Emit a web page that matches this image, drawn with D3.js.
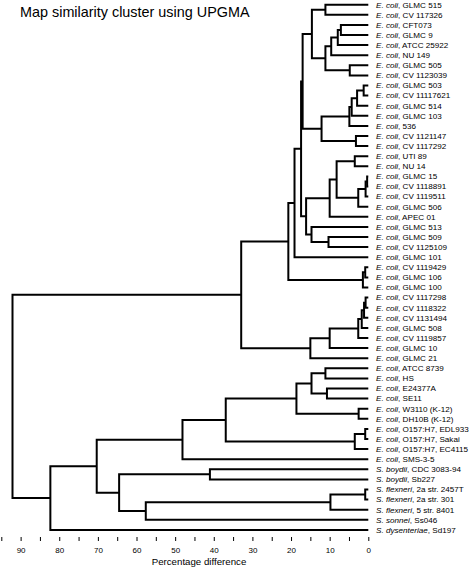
<!DOCTYPE html>
<html>
<head>
<meta charset="utf-8">
<script src="https://cdn.jsdelivr.net/npm/d3@7"></script>
<style>
  html, body { margin: 0; padding: 0; background: #fff; }
  svg { display: block; font-family: "Liberation Sans", Arial, Helvetica, sans-serif; }
</style>
</head>
<body>
<svg id="chart" width="472" height="568"></svg>
<script>
// ---- DATA ----
const title = "Map similarity cluster using UPGMA";
const axisLabel = "Percentage difference";

// leaf order (top to bottom)
const species = [
  "E. coli","E. coli","E. coli","E. coli","E. coli","E. coli","E. coli","E. coli",
  "E. coli","E. coli","E. coli","E. coli","E. coli","E. coli","E. coli",
  "E. coli","E. coli","E. coli","E. coli","E. coli","E. coli","E. coli",
  "E. coli","E. coli","E. coli","E. coli","E. coli","E. coli","E. coli",
  "E. coli","E. coli","E. coli","E. coli","E. coli","E. coli","E. coli",
  "E. coli","E. coli","E. coli","E. coli","E. coli","E. coli","E. coli",
  "E. coli","E. coli","E. coli",
  "S. boydii","S. boydii","S. flexneri","S. flexneri","S. flexneri","S. sonnei","S. dysenteriae"
];
const strains = [
  "GLMC 515","CV 117326","CFT073","GLMC 9","ATCC 25922","NU 149","GLMC 505","CV 1123039",
  "GLMC 503","CV 11117621","GLMC 514","GLMC 103","536","CV 1121147","CV 1117292",
  "UTI 89","NU 14","GLMC 15","CV 1118891","CV 1119511","GLMC 506","APEC 01",
  "GLMC 513","GLMC 509","CV 1125109","GLMC 101","CV 1119429","GLMC 106","GLMC 100",
  "CV 1117298","CV 1118322","CV 1131494","GLMC 508","CV 1119857","GLMC 10","GLMC 21",
  "ATCC 8739","HS","E24377A","SE11","W3110 (K-12)","DH10B (K-12)","O157:H7, EDL933",
  "O157:H7, Sakai","O157:H7, EC4115","SMS-3-5",
  "CDC 3083-94","Sb227","2a str. 2457T","2a str. 301","5 str. 8401","Ss046","Sd197"
];

// UPGMA merges: [childA, childB, height(% difference)]
// leaves are 0..52, merge i creates node 53+i
const mergeA = [0,2,54,55,6,56,53,8,60,61,62,13,63,59,15,17,68,69,67,71,23,22,72,66,76,26,78,77,29,81,82,83,84,85,80,36,38,88,40,90,42,93,92,95,46,48,98,99,97,96,102,87];
const mergeB = [1,3,4,5,7,57,58,9,10,11,12,14,64,65,16,18,19,20,70,21,24,73,74,75,25,27,28,79,30,31,32,33,34,35,86,37,39,89,41,91,43,44,94,45,47,49,50,51,100,101,52,103];
const mergeH = [11.1,7.1,7.9,9.6,4.8,11.1,14.6,1.2,2.9,4.3,4.9,3.2,12.1,17.0,3.5,0.3,0.7,2.6,8.2,10.0,10.3,14.7,16.1,17.4,19.1,0.8,1.4,20.7,0.7,1.1,1.7,2.6,10.0,15.0,32.9,11.1,10.7,14.7,2.5,18.6,0.8,3.5,36.9,48.1,41.0,0.8,9.8,57.6,64.5,70.3,82.3,92.1];

const tickValues = [95,90,85,80,75,70,65,60,55,50,45,40,35,30,25,20,15,10,5,0];
const tickLabels = ["","90","","80","","70","","60","","50","","40","","30","","20","","10","","0"];

// ---- BUILD TREE ----
const nLeaves = strains.length;
const nodes = [];
for (let i = 0; i < nLeaves; i++) nodes.push({id: i, leaf: true, height: 0, species: species[i], strain: strains[i]});
mergeA.forEach((a, i) => {
  nodes.push({id: nLeaves + i, leaf: false, height: mergeH[i], children: [nodes[a], nodes[mergeB[i]]]});
});
const rootData = nodes[nodes.length - 1];
const root = d3.hierarchy(rootData, d => d.children);

// ---- SCALES ----
const svg = d3.select("#chart");
const x = d3.scaleLinear().domain([0, 95]).range([368.3, 1.3]);
const y = d3.scalePoint().domain(d3.range(nLeaves)).range([4.7, 529.9]);

root.eachAfter(n => {
  if (!n.children) n.yPos = y(n.data.id);
  else n.yPos = d3.mean(n.children, c => c.yPos);
  n.xPos = x(n.data.height);
});

// ---- LINKS ----
const g = svg.append("g");
g.selectAll("path.link")
  .data(root.descendants().filter(n => n.children))
  .join("path")
  .attr("class", "link")
  .attr("fill", "none")
  .attr("stroke", "#000")
  .attr("stroke-width", 2)
  .attr("stroke-linejoin", "miter")
  .attr("d", n => {
    const [c1, c2] = n.children;
    return `M${c1.xPos},${c1.yPos}H${n.xPos}V${c2.yPos}H${c2.xPos}`;
  });

// ---- LEAF LABELS ----
const labels = g.selectAll("text.leaf")
  .data(root.leaves())
  .join("text")
  .attr("class", "leaf")
  .attr("x", 376)
  .attr("y", n => n.yPos)
  .attr("dy", "0.35em")
  .attr("font-size", 8.1)
  .attr("fill", "#000");
labels.append("tspan").attr("font-style", "italic").text(n => n.data.species);
labels.append("tspan").text(n => ", " + n.data.strain);

// ---- AXIS ----
const axis = d3.axisBottom(x)
  .tickValues(tickValues)
  .tickFormat((d, i) => tickLabels[i])
  .tickSize(4)
  .tickSizeOuter(0)
  .tickPadding(6);
const ag = svg.append("g").attr("transform", "translate(0,537)").call(axis);
ag.select(".domain").remove();
ag.selectAll(".tick line").attr("stroke", "#000").attr("stroke-width", 1);
ag.selectAll(".tick text").attr("font-size", 8).attr("fill", "#000")
  .attr("font-family", "'Liberation Sans', Arial, sans-serif");

svg.append("text")
  .attr("x", 199).attr("y", 565)
  .attr("text-anchor", "middle")
  .attr("font-size", 9.7)
  .attr("fill", "#000")
  .text(axisLabel);

// ---- TITLE ----
svg.append("text")
  .attr("x", 20).attr("y", 16.7)
  .attr("font-size", 14.4)
  .attr("fill", "#000")
  .text(title);
</script>
</body>
</html>
